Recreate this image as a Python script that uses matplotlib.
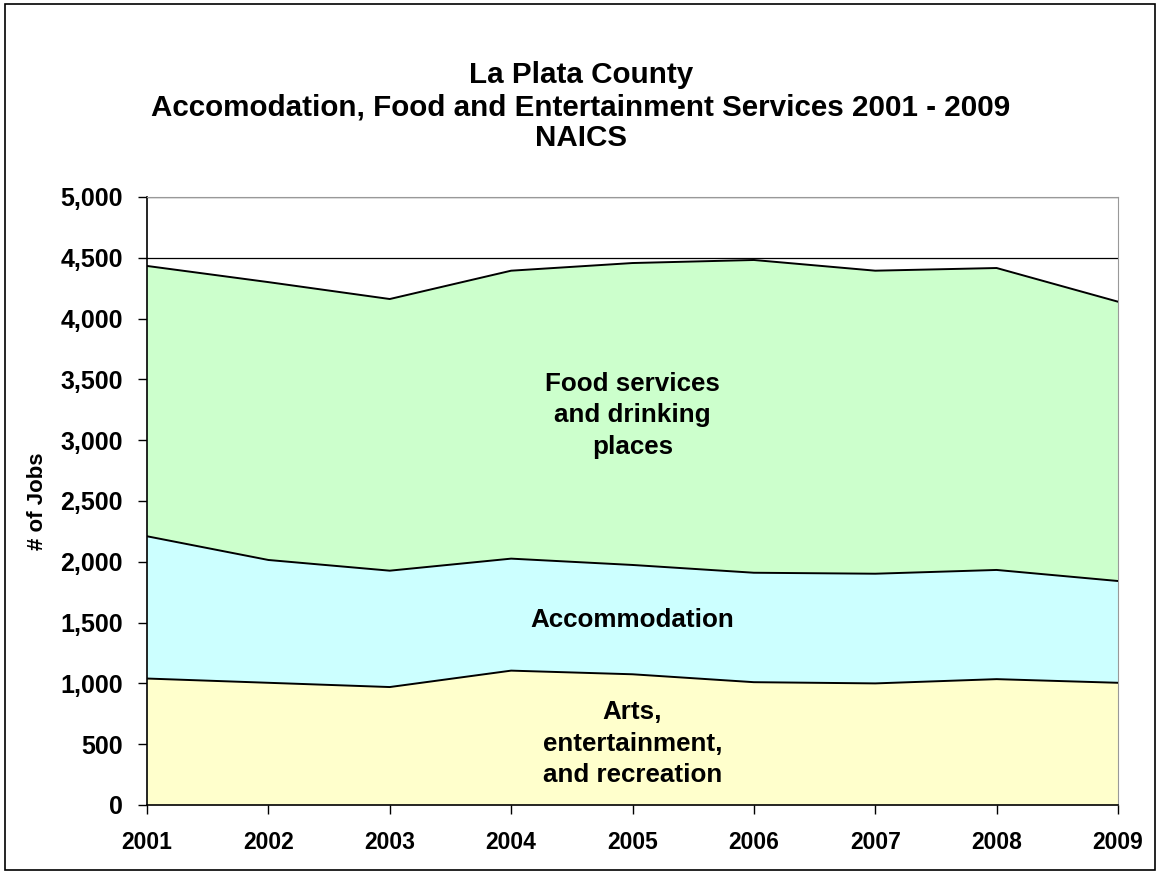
import matplotlib
matplotlib.use("Agg")
import matplotlib.pyplot as plt
import matplotlib.patches as patches
import numpy as np

# Donnees
years = [2001, 2002, 2003, 2004, 2005, 2006, 2007, 2008, 2009]
arts = [1040, 1005, 970, 1105, 1075, 1010, 1000, 1035, 1005]
accommodation = [1170, 1010, 957, 921, 899, 900, 902, 898, 837]
food = [2223, 2285, 2234, 2368, 2483, 2572, 2492, 2483, 2297]

series_names = ["Arts,\nentertainment,\nand recreation", "Accommodation",
                "Food services\nand drinking\nplaces"]
colors = ["#FFFFCC", "#CCFFFF", "#CCFFCC"]

plt.rcParams['font.family'] = ['Liberation Sans', 'DejaVu Sans']
plt.rcParams['font.weight'] = 'bold'

fig = plt.figure(figsize=(11.57, 8.74), dpi=100)
ax = fig.add_axes([147/1157, 1 - 805/874, (1118 - 147)/1157, (805 - 197)/874])

x = np.arange(len(years))
stack = np.vstack([arts, accommodation, food])
cum = np.cumsum(stack, axis=0)
bottom = np.zeros(len(years))
for i in range(3):
    ax.fill_between(x, bottom, cum[i], facecolor=colors[i], edgecolor='none', zorder=2)
    ax.plot(x, cum[i], color='black', lw=1.4, zorder=3)
    bottom = cum[i]

# etiquettes des series
ax.text(4.0, 505, series_names[0], ha='center', va='center', fontsize=18.7, fontweight='bold',
        linespacing=1.4, zorder=4)
ax.text(4.0, 1520, series_names[1], ha='center', va='center', fontsize=18.7, fontweight='bold', zorder=4)
ax.text(4.0, 3205, series_names[2], ha='center', va='center', fontsize=18.7, fontweight='bold',
        linespacing=1.4, zorder=4)

ax.set_xlim(0, len(years) - 1)
ax.set_ylim(0, 5000)
ax.set_yticks(np.arange(0, 5001, 500))
ax.set_yticklabels([f"{v:,}" for v in range(0, 5001, 500)], fontsize=18, fontweight='bold')
ax.set_xticks(x)
ax.set_xticklabels([str(y) for y in years], fontsize=16.5, fontweight='bold')
ax.tick_params(axis='both', direction='out', length=6.5, width=1, colors='black')
ax.tick_params(axis='y', pad=11)
ax.tick_params(axis='x', pad=12)
ax.set_ylabel("# of Jobs", fontsize=16, fontweight='bold', labelpad=9)

ax.grid(axis='y', color='black', lw=0.9, zorder=1)
ax.set_axisbelow(True)
ax.spines['left'].set_color('black')
ax.spines['bottom'].set_color('black')
ax.spines['top'].set_color('#999999')
ax.spines['right'].set_color('#999999')
ax.spines['left'].set_linewidth(1.2)
ax.spines['bottom'].set_linewidth(1.2)

fig.text(0.502, 1 - 75/874, "La Plata County", ha='center', va='center', fontsize=21.3, fontweight='bold')
fig.text(0.502, 1 - 107/874, "Accomodation, Food and Entertainment Services 2001 - 2009",
         ha='center', va='center', fontsize=21.3, fontweight='bold')
fig.text(0.502, 1 - 138/874, "NAICS", ha='center', va='center', fontsize=21.3, fontweight='bold')

fig.patches.append(patches.Rectangle((5/1157, 4/874), 1150/1157, 866/874, transform=fig.transFigure,
                                     fill=False, edgecolor='black', lw=1.2))

fig.savefig("out.png", dpi=100)
